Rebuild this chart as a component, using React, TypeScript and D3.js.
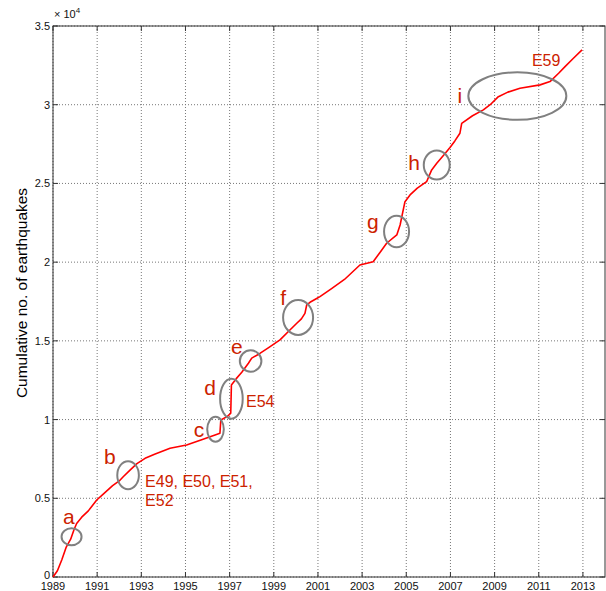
import React from "react";
import * as d3 from "d3";

const years = [1989.0, 1989.2, 1989.4, 1989.6, 1989.8, 1989.95, 1990.07, 1990.3, 1990.6, 1990.98, 1991.3, 1991.7, 1992.0, 1992.18, 1992.5, 1992.8, 1993.17, 1993.6, 1994.3, 1995.05, 1995.7, 1996.34, 1996.56, 1996.6, 1996.9, 1997.05, 1997.08, 1997.3, 1997.55, 1997.85, 1998.0, 1998.37, 1998.8, 1999.28, 1999.73, 2000.04, 2000.25, 2000.41, 2000.49, 2000.64, 2000.94, 2001.09, 2001.6, 2002.2, 2002.9, 2003.5, 2003.8, 2004.11, 2004.57, 2004.72, 2004.94, 2005.17, 2005.5, 2005.92, 2006.15, 2006.38, 2006.7, 2006.98, 2007.2, 2007.43, 2007.51, 2008.0, 2008.49, 2008.8, 2009.17, 2009.6, 2010.15, 2011.06, 2011.51, 2011.9, 2012.19, 2012.57, 2012.96];
const counts = [0, 400, 1100, 1900, 2400, 3000, 3400, 3800, 4200, 4890, 5300, 5800, 6100, 6370, 6800, 7200, 7540, 7800, 8180, 8390, 8700, 9020, 9130, 9970, 10200, 10400, 12200, 12600, 13000, 13580, 13900, 14200, 14600, 15060, 15690, 16120, 16400, 16750, 17280, 17450, 17690, 17810, 18300, 18900, 19820, 20030, 20600, 21200, 21730, 22360, 23840, 24270, 24700, 25110, 25860, 26280, 26800, 27280, 27700, 28190, 28820, 29300, 29670, 30000, 30510, 30800, 31050, 31260, 31470, 32000, 32420, 32950, 33480];

const xTicks = [1989, 1991, 1993, 1995, 1997, 1999, 2001, 2003, 2005, 2007, 2009, 2011, 2013];
const yTicks = [0, 5000, 10000, 15000, 20000, 25000, 30000, 35000];
const yTickLabels = ["0", "0.5", "1", "1.5", "2", "2.5", "3", "3.5"];

// annotation ellipses
const markerNames = ["a", "b", "c", "d", "e", "f", "g", "h", "i"];
const markerYears = [1989.84, 1992.4, 1996.36, 1997.08, 1997.95, 2000.1, 2004.56, 2006.38, 2010.03];
const markerValues = [2560, 6470, 9380, 11330, 13720, 16490, 21950, 26170, 30550];
const markerRx = [10, 10.8, 8.3, 11.3, 10.8, 15, 12.5, 13, 49];
const markerRy = [8.5, 14, 12.5, 20, 10.7, 17.5, 15.8, 14.5, 23.8];
const labelYears = [1989.72, 1991.58, 1995.61, 1996.11, 1997.33, 1999.42, 2003.49, 2005.35, 2007.43];
const labelValues = [3370, 7180, 8890, 11560, 14170, 17280, 22110, 25860, 30110];

const eventLabels = [
  { lines: ["E49, E50, E51,", "E52"], year: 1993.17, value: 5740 },
  { lines: ["E54"], year: 1997.74, value: 10800 },
  { lines: ["E59"], year: 2010.69, value: 32460 },
];

export default function App() {
  const W = 606, H = 591;
  const L = 53, R = 605, T = 26, B = 577;
  const x = d3.scaleLinear().domain([1989, 2014]).range([L, R]);
  const y = d3.scaleLinear().domain([0, 35000]).range([B, T]);
  const pts: [number, number][] = years.map((yr, i) => [yr, counts[i]]);
  const line = d3.line<[number, number]>().x(d => x(d[0])).y(d => y(d[1]));
  const red = "#ff0000";
  const lab = "#cc2200";
  const font = "Liberation Sans, Arial, sans-serif";
  const frame = "#333";
  const grid = "#777";
  return (
    <svg width={W} height={H} style={{ position: "absolute", left: 0, top: 0, background: "#fff" }} fontFamily={font}>
      <rect x={0} y={0} width={W} height={H} fill="#fff" />
      {xTicks.map(t => (
        <line key={"gx" + t} x1={x(t)} x2={x(t)} y1={T} y2={B} stroke={grid} strokeWidth={1} strokeDasharray="1,2" />
      ))}
      {yTicks.map(t => (
        <line key={"gy" + t} x1={L} x2={R} y1={y(t)} y2={y(t)} stroke={grid} strokeWidth={1} strokeDasharray="1,2" />
      ))}
      <rect x={L} y={T} width={R - L} height={B - T} fill="none" stroke={frame} strokeWidth={1} />
      {xTicks.map(t => (
        <g key={"tx" + t}>
          <line x1={x(t)} x2={x(t)} y1={B} y2={B - 5} stroke={frame} />
          <line x1={x(t)} x2={x(t)} y1={T} y2={T + 5} stroke={frame} />
          <text x={x(t)} y={B + 13} textAnchor="middle" fontSize={11} fill="#111">{t}</text>
        </g>
      ))}
      {yTicks.map((t, i) => (
        <g key={"ty" + t}>
          <line x1={L} x2={L + 5} y1={y(t)} y2={y(t)} stroke={frame} />
          <line x1={R} x2={R - 5} y1={y(t)} y2={y(t)} stroke={frame} />
          <text x={L - 3} y={y(t) + (i === 0 ? 2 : 4)} textAnchor="end" fontSize={11} fill="#111">{yTickLabels[i]}</text>
        </g>
      ))}
      <text x={L + 1} y={T - 8} fontSize={11} fill="#111">× 10<tspan dy={-5} fontSize={8}>4</tspan></text>
      <text transform={`translate(27, 293) rotate(-90)`} textAnchor="middle" fontSize={15.5} fill="#000">Cumulative no. of earthquakes</text>
      <path d={line(pts) || ""} fill="none" stroke={red} strokeWidth={1.6} strokeLinejoin="round" />
      {markerNames.map((n, i) => (
        <g key={"m" + n}>
          <ellipse cx={x(markerYears[i])} cy={y(markerValues[i])} rx={markerRx[i]} ry={markerRy[i]} fill="none" stroke="#808080" strokeWidth={2} />
          <text x={x(labelYears[i])} y={y(labelValues[i])} textAnchor="middle" fontSize={21} fill={lab}>{n}</text>
        </g>
      ))}
      {eventLabels.map((e, i) => (
        <text key={"e" + i} x={x(e.year)} y={y(e.value)} fontSize={16} fill={lab}>
          {e.lines.map((l, j) => (
            <tspan key={j} x={x(e.year)} dy={j === 0 ? 0 : 19.5}>{l}</tspan>
          ))}
        </text>
      ))}
    </svg>
  );
}
